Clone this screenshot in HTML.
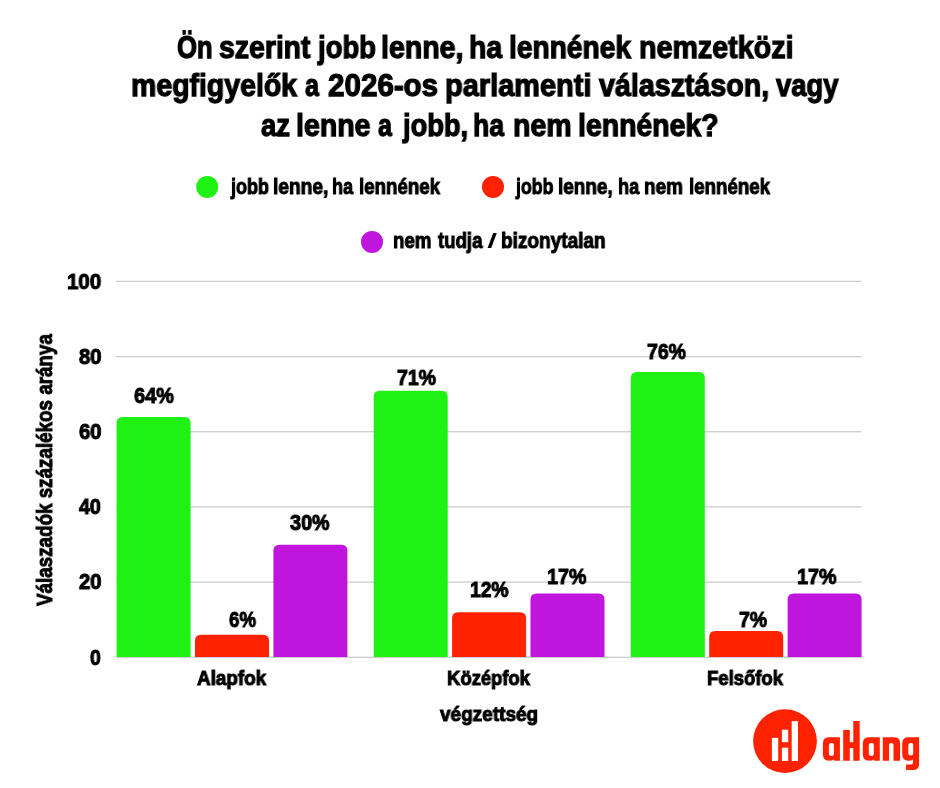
<!DOCTYPE html>
<html><head><meta charset="utf-8"><title>chart</title>
<style>
html,body{margin:0;padding:0;background:#fff;}
body{width:940px;height:788px;position:relative;overflow:hidden;font-family:"Liberation Sans",sans-serif;font-weight:bold;color:#000;}
.t{position:absolute;white-space:nowrap;line-height:1;transform-origin:0 0;-webkit-text-stroke:1.0px #000;will-change:transform;}
.h{-webkit-text-stroke:1.25px #000;}
svg{position:absolute;left:0;top:0;}
#ytitle{position:absolute;white-space:nowrap;line-height:1;transform-origin:0 0;-webkit-text-stroke:0.85px #000;will-change:transform;}
</style></head><body>
<svg width="940" height="788" viewBox="0 0 940 788">
<rect x="116" y="280.75" width="745.5" height="1.3" fill="#cccccc"/>
<rect x="116" y="355.95" width="745.5" height="1.3" fill="#cccccc"/>
<rect x="116" y="431.10" width="745.5" height="1.3" fill="#cccccc"/>
<rect x="116" y="506.25" width="745.5" height="1.3" fill="#cccccc"/>
<rect x="116" y="581.45" width="745.5" height="1.3" fill="#cccccc"/>
<rect x="116" y="656.7" width="745.5" height="1.3" fill="#cccccc"/>
<path d="M116.60 657.10V423.08Q116.60 417.08 122.60 417.08H184.60Q190.60 417.08 190.60 423.08V657.10Z" fill="#1ef113"/>
<path d="M195.00 657.10V640.87Q195.00 634.87 201.00 634.87H263.00Q269.00 634.87 269.00 640.87V657.10Z" fill="#ff2200"/>
<path d="M273.40 657.10V550.75Q273.40 544.75 279.40 544.75H341.40Q347.40 544.75 347.40 550.75V657.10Z" fill="#bf15dc"/>
<path d="M373.70 657.10V396.80Q373.70 390.80 379.70 390.80H441.70Q447.70 390.80 447.70 396.80V657.10Z" fill="#1ef113"/>
<path d="M452.10 657.10V618.34Q452.10 612.34 458.10 612.34H520.10Q526.10 612.34 526.10 618.34V657.10Z" fill="#ff2200"/>
<path d="M530.50 657.10V599.56Q530.50 593.56 536.50 593.56H598.50Q604.50 593.56 604.50 599.56V657.10Z" fill="#bf15dc"/>
<path d="M630.80 657.10V378.02Q630.80 372.02 636.80 372.02H698.80Q704.80 372.02 704.80 378.02V657.10Z" fill="#1ef113"/>
<path d="M709.20 657.10V637.12Q709.20 631.12 715.20 631.12H777.20Q783.20 631.12 783.20 637.12V657.10Z" fill="#ff2200"/>
<path d="M787.60 657.10V599.56Q787.60 593.56 793.60 593.56H855.60Q861.60 593.56 861.60 599.56V657.10Z" fill="#bf15dc"/>
<circle cx="207.2" cy="186.9" r="11" fill="#1ef113"/>
<circle cx="493" cy="186.9" r="11" fill="#ff2200"/>
<circle cx="372" cy="241.9" r="11" fill="#bf15dc"/>
<polygon points="493.2,233 496.8,233 491.2,247.9 487.6,247.9" fill="#000"/>
<circle cx="785" cy="741.1" r="31.9" fill="#ff2200"/>
<rect x="771.9" y="737.9" width="6.3" height="23.1" fill="#fff"/>
<rect x="781.9" y="729.7" width="6.3" height="12.5" fill="#fff"/>
<rect x="781.9" y="747.7" width="6.3" height="13.3" fill="#fff"/>
<rect x="791.7" y="721.1" width="6.3" height="39.9" fill="#fff"/>
<path fill-rule="evenodd" d="M828.40 737.2H839.90V760.8H834.40L833.70 759.6Q832.40 760.8 828.90 760.8Q822.90 760.8 822.90 754V744Q822.90 737.2 828.40 737.2ZM831.40 743H832.00Q833.90 743 833.90 745V754Q833.90 756 831.70 756Q828.90 756 828.90 753.5V745.5Q828.90 743 831.40 743Z" fill="#ff2200"/>
<path d="M843.2 729.9H849.8V742.3H853.3V721H859.7V760.8H853.3V748H849.8V760.8H843.2Z" fill="#ff2200"/>
<path fill-rule="evenodd" d="M868.30 737.2H879.80V760.8H874.30L873.60 759.6Q872.30 760.8 868.80 760.8Q862.80 760.8 862.80 754V744Q862.80 737.2 868.30 737.2ZM871.30 743H871.90Q873.80 743 873.80 745V754Q873.80 756 871.60 756Q868.80 756 868.80 753.5V745.5Q868.80 743 871.30 743Z" fill="#ff2200"/>
<path d="M882.8 737.3H894.5Q900.1 737.3 900.1 743.5V760.8H893.5V745Q893.5 743 891.2 743Q889 743 889 745V760.8H882.8Z" fill="#ff2200"/>
<path fill-rule="evenodd" d="M907.70 737.2H919.1V764Q919.1 770 913 770H906V764.4H911Q913 764.4 913 762.5V759.6Q911.8 760.8 908.2 760.8Q902.20 760.8 902.20 754V744Q902.20 737.2 907.70 737.2ZM910.90 743H911.40Q913.2 743 913.2 745V753.5Q913.2 755.5 910.8 755.5Q908.3 755.5 908.3 753V745.5Q908.3 743 910.90 743Z" fill="#ff2200"/>
</svg>
<div class="t h" id="t1w0" style="left:176.86px;top:31.62px;font-size:31.435px;transform:scaleX(0.8155)">Ön</div>
<div class="t h" id="t1w1" style="left:218.89px;top:31.62px;font-size:31.435px;transform:scaleX(0.9036)">szerint</div>
<div class="t h" id="t1w2" style="left:318.03px;top:31.62px;font-size:31.435px;transform:scaleX(0.8747)">jobb</div>
<div class="t h" id="t1w3" style="left:381.38px;top:31.62px;font-size:31.435px;transform:scaleX(0.9083)">lenne,</div>
<div class="t h" id="t1w4" style="left:468.97px;top:31.62px;font-size:31.435px;transform:scaleX(0.9034)">ha</div>
<div class="t h" id="t1w5" style="left:509.24px;top:31.62px;font-size:31.435px;transform:scaleX(0.8959)">lennének</div>
<div class="t h" id="t1w6" style="left:638.89px;top:31.62px;font-size:31.435px;transform:scaleX(0.9119)">nemzetközi</div>
<div class="t h" id="t2w0" style="left:130.74px;top:70.42px;font-size:31.435px;transform:scaleX(0.9056)">megfigyelők</div>
<div class="t h" id="t2w1" style="left:305.37px;top:70.42px;font-size:31.435px;transform:scaleX(0.7967)">a</div>
<div class="t h" id="t2w2" style="left:328.02px;top:70.42px;font-size:31.435px;transform:scaleX(0.9409)">2026-os</div>
<div class="t h" id="t2w3" style="left:444.87px;top:70.42px;font-size:31.435px;transform:scaleX(0.9218)">parlamenti</div>
<div class="t h" id="t2w4" style="left:598.50px;top:70.42px;font-size:31.435px;transform:scaleX(0.9104)">választáson,</div>
<div class="t h" id="t2w5" style="left:776.00px;top:70.42px;font-size:31.435px;transform:scaleX(0.8704)">vagy</div>
<div class="t h" id="t3w0" style="left:261.33px;top:109.88px;font-size:31.435px;transform:scaleX(0.8710)">az</div>
<div class="t h" id="t3w1" style="left:296.46px;top:109.88px;font-size:31.435px;transform:scaleX(0.9078)">lenne</div>
<div class="t h" id="t3w2" style="left:378.37px;top:109.88px;font-size:31.435px;transform:scaleX(0.7944)">a</div>
<div class="t h" id="t3w3" style="left:402.95px;top:109.88px;font-size:31.435px;transform:scaleX(0.8687)">jobb,</div>
<div class="t h" id="t3w4" style="left:472.94px;top:109.88px;font-size:31.435px;transform:scaleX(0.8470)">ha</div>
<div class="t h" id="t3w5" style="left:513.32px;top:109.88px;font-size:31.435px;transform:scaleX(0.9067)">nem</div>
<div class="t h" id="t3w6" style="left:577.64px;top:109.88px;font-size:31.435px;transform:scaleX(0.9048)">lennének?</div>
<div class="t" id="l1w0" style="left:231.22px;top:175.67px;font-size:21.647px;transform:scaleX(0.8298)">jobb</div>
<div class="t" id="l1w1" style="left:273.48px;top:175.67px;font-size:21.647px;transform:scaleX(0.8854)">lenne,</div>
<div class="t" id="l1w2" style="left:332.33px;top:175.67px;font-size:21.647px;transform:scaleX(0.8330)">ha</div>
<div class="t" id="l1w3" style="left:358.83px;top:175.67px;font-size:21.647px;transform:scaleX(0.8641)">lennének</div>
<div class="t" id="l2w0" style="left:516.46px;top:175.67px;font-size:21.647px;transform:scaleX(0.8182)">jobb</div>
<div class="t" id="l2w1" style="left:558.48px;top:175.67px;font-size:21.647px;transform:scaleX(0.8751)">lenne,</div>
<div class="t" id="l2w2" style="left:617.90px;top:175.67px;font-size:21.647px;transform:scaleX(0.8403)">ha</div>
<div class="t" id="l2w3" style="left:644.40px;top:175.67px;font-size:21.647px;transform:scaleX(0.8746)">nem</div>
<div class="t" id="l2w4" style="left:688.51px;top:175.67px;font-size:21.647px;transform:scaleX(0.8641)">lennének</div>
<div class="t" id="l3w0" style="left:393.49px;top:229.78px;font-size:21.647px;transform:scaleX(0.8624)">nem</div>
<div class="t" id="l3w1" style="left:437.50px;top:229.78px;font-size:21.647px;transform:scaleX(0.8594)">tudja</div>
<div class="t" id="l3w2" style="left:501.49px;top:229.78px;font-size:21.647px;transform:scaleX(0.8788)">bizonytalan</div>
<div class="t" id="y100" style="left:66.72px;top:271.54px;font-size:21.333px;transform:scaleX(0.9615)">100</div>
<div class="t" id="y80" style="left:78.84px;top:347.26px;font-size:21.333px;transform:scaleX(0.9529)">80</div>
<div class="t" id="y60" style="left:78.84px;top:422.26px;font-size:21.333px;transform:scaleX(0.9529)">60</div>
<div class="t" id="y40" style="left:78.88px;top:497.34px;font-size:21.333px;transform:scaleX(0.9232)">40</div>
<div class="t" id="y20" style="left:78.84px;top:572.42px;font-size:21.333px;transform:scaleX(0.9529)">20</div>
<div class="t" id="y0" style="left:89.91px;top:647.54px;font-size:21.333px;transform:scaleX(0.9125)">0</div>
<div class="t" id="v1" style="left:134.14px;top:385.18px;font-size:21.902px;transform:scaleX(0.9130)">64%</div>
<div class="t" id="v2" style="left:229.14px;top:609.14px;font-size:21.902px;transform:scaleX(0.8538)">6%</div>
<div class="t" id="v3" style="left:289.53px;top:512.02px;font-size:21.902px;transform:scaleX(0.9031)">30%</div>
<div class="t" id="v4" style="left:397.03px;top:366.70px;font-size:21.618px;transform:scaleX(0.9007)">71%</div>
<div class="t" id="v5" style="left:469.76px;top:579.10px;font-size:21.902px;transform:scaleX(0.8797)">12%</div>
<div class="t" id="v6" style="left:546.57px;top:565.62px;font-size:21.618px;transform:scaleX(0.9132)">17%</div>
<div class="t" id="v7" style="left:646.83px;top:340.62px;font-size:21.618px;transform:scaleX(0.8992)">76%</div>
<div class="t" id="v8" style="left:739.11px;top:608.58px;font-size:21.618px;transform:scaleX(0.8976)">7%</div>
<div class="t" id="v9" style="left:796.64px;top:565.62px;font-size:21.618px;transform:scaleX(0.9152)">17%</div>
<div class="t" id="c1" style="left:196.67px;top:668.86px;font-size:19.627px;transform:scaleX(0.9616)">Alapfok</div>
<div class="t" id="c2" style="left:446.53px;top:668.78px;font-size:19.627px;transform:scaleX(0.9407)">Középfok</div>
<div class="t" id="c3" style="left:707.48px;top:668.90px;font-size:19.627px;transform:scaleX(0.9422)">Felsőfok</div>
<div class="t" id="c4" style="left:440.08px;top:704.55px;font-size:19.953px;transform:scaleX(0.9527)">végzettség</div>
<div id="ytitle" style="left:35.16px;top:605.70px;font-size:21.304px;transform:rotate(-90deg) scaleX(0.8833)">Válaszadók százalékos aránya</div>
</body></html>
